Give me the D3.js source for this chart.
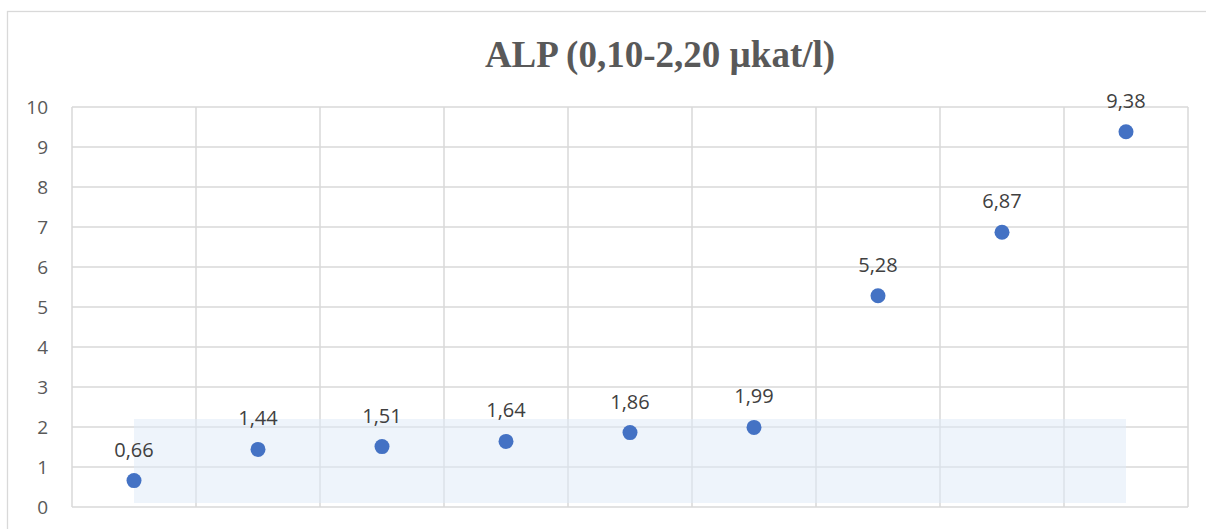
<!DOCTYPE html>
<html>
<head>
<meta charset="utf-8">
<script src="https://cdn.jsdelivr.net/npm/d3@7"></script>
<style>
  html, body { margin: 0; padding: 0; background: #ffffff; }
  svg { display: block; }
</style>
</head>
<body>
<svg id="chart" width="1206" height="529"></svg>
<script>
// ALP measurements, one per sample, in order
const samples = ["1", "2", "3", "4", "5", "6", "7", "8", "9"];
const values = [0.66, 1.44, 1.51, 1.64, 1.86, 1.99, 5.28, 6.87, 9.38];
const valueLabels = ["0,66", "1,44", "1,51", "1,64", "1,86", "1,99", "5,28", "6,87", "9,38"];
// reference range (µkat/l)
const refLow = 0.10;
const refHigh = 2.20;
const yTicks = [0, 1, 2, 3, 4, 5, 6, 7, 8, 9, 10];
const titleText = "ALP (0,10-2,20 µkat/l)";

const svg = d3.select("#chart");
const plot = { left: 72, top: 107, right: 1188, bottom: 507 };
const labelFont = "'Open Sans', 'Segoe UI', sans-serif";

// chart border
svg.append("rect")
  .attr("x", 7.5).attr("y", 11.5)
  .attr("width", 1300).attr("height", 530)
  .attr("fill", "#ffffff")
  .attr("stroke", "#d9d9d9").attr("stroke-width", 1.3);

const x = d3.scaleBand().domain(samples).range([plot.left, plot.right]).padding(0);
const y = d3.scaleLinear().domain([0, 10]).range([plot.bottom, plot.top]);

// horizontal gridlines
svg.append("g")
  .selectAll("line")
  .data(yTicks)
  .join("line")
  .attr("x1", plot.left).attr("x2", plot.right)
  .attr("y1", d => y(d)).attr("y2", d => y(d))
  .attr("stroke", "#d9d9d9").attr("stroke-width", 1.5);

// vertical gridlines at category boundaries
const bounds = samples.map(s => x(s)).concat([plot.right]);
svg.append("g")
  .selectAll("line")
  .data(bounds)
  .join("line")
  .attr("x1", d => d).attr("x2", d => d)
  .attr("y1", plot.top).attr("y2", plot.bottom)
  .attr("stroke", "#d9d9d9").attr("stroke-width", 1.5);

// reference range band
const cx = s => x(s) + x.bandwidth() / 2;
svg.append("rect")
  .attr("x", cx(samples[0]))
  .attr("y", y(refHigh))
  .attr("width", cx(samples[samples.length - 1]) - cx(samples[0]))
  .attr("height", y(refLow) - y(refHigh))
  .attr("fill", "#dde9f8").attr("fill-opacity", 0.5);

// y axis labels
const yAxis = d3.axisLeft(y).tickValues(yTicks).tickSize(0).tickPadding(0);
const gy = svg.append("g").attr("transform", `translate(48,0)`).call(yAxis);
gy.select(".domain").remove();
gy.selectAll("text")
  .attr("fill", "#595959")
  .attr("font-family", labelFont)
  .attr("font-size", 19)
  .attr("dy", "0.36em");

// points
svg.append("g")
  .selectAll("circle")
  .data(values)
  .join("circle")
  .attr("cx", (d, i) => cx(samples[i]))
  .attr("cy", d => y(d))
  .attr("r", 7.5)
  .attr("fill", "#4472c4");

// value labels
svg.append("g")
  .selectAll("text")
  .data(values)
  .join("text")
  .attr("x", (d, i) => cx(samples[i]))
  .attr("y", d => y(d) - 24)
  .attr("text-anchor", "middle")
  .attr("fill", "#404040")
  .attr("font-family", labelFont)
  .attr("font-size", 20)
  .text((d, i) => valueLabels[i]);

// title
svg.append("text")
  .attr("x", 660).attr("y", 67)
  .attr("text-anchor", "middle")
  .attr("fill", "#595959")
  .attr("font-family", "'Liberation Serif', 'Times New Roman', serif")
  .attr("font-weight", "bold")
  .attr("font-size", 37)
  .text(titleText);
</script>
</body>
</html>
